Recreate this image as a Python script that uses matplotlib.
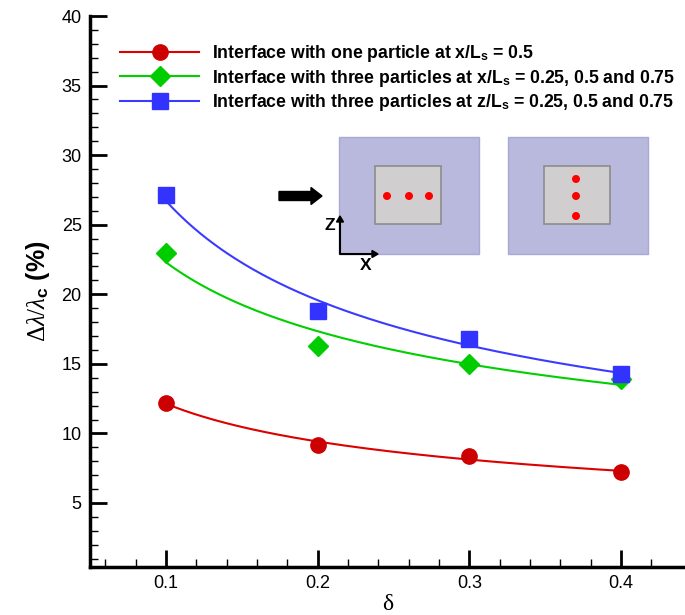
import matplotlib
matplotlib.use("Agg")
import matplotlib.pyplot as plt
import numpy as np
from matplotlib.lines import Line2D
from matplotlib.patches import Rectangle, Circle, FancyArrow

plt.rcParams["font.family"] = ["Liberation Sans", "DejaVu Sans"]
plt.rcParams["mathtext.fontset"] = "custom"
plt.rcParams["mathtext.rm"] = "Liberation Serif"
plt.rcParams["mathtext.it"] = "Liberation Serif:italic"
plt.rcParams["mathtext.bf"] = "Liberation Sans:bold"
plt.rcParams["mathtext.sf"] = "Liberation Sans"

# data
delta = [0.1, 0.2, 0.3, 0.4]
one_x = [12.2, 9.2, 8.4, 7.2]
three_x = [23.0, 16.3, 15.0, 13.9]
three_z = [27.1, 18.8, 16.8, 14.3]

labels = [
    r"Interface with one particle at x/L$_{\mathbf{s}}$ = 0.5",
    r"Interface with three particles at x/L$_{\mathbf{s}}$ = 0.25, 0.5 and 0.75",
    r"Interface with three particles at z/L$_{\mathbf{s}}$ = 0.25, 0.5 and 0.75",
]
series = [one_x, three_x, three_z]
line_cols = ["#dd0000", "#00d000", "#3b3bff"]
mark_cols = ["#cc0000", "#00cc00", "#3333ff"]
markers = ["o", "D", "s"]
msizes = [11, 10, 11]

fig = plt.figure(figsize=(6.85, 6.15), dpi=100)
ax = fig.add_axes([90 / 685, 48 / 615, 595 / 685, 551 / 615])

xs = np.linspace(min(delta), max(delta), 200)
handles = []
for y, lc, mc, m, ms, lab in zip(series, line_cols, mark_cols, markers, msizes, labels):
    # power-law trend line fitted to the points
    b, a = np.polyfit(np.log(delta), np.log(y), 1)
    ax.plot(xs, np.exp(a) * xs ** b, color=lc, lw=1.5, zorder=2)
    ax.plot(delta, y, ls="none", marker=m, ms=ms, color=mc, zorder=3)
    handles.append(Line2D([], [], color=lc, lw=1.5, marker=m, ms=ms,
                          markerfacecolor=mc, markeredgecolor=mc))

ax.set_xlim(0.05, 0.05 + 595 / 1517)
ax.set_ylim(0.4, 40)
ax.set_xticks([0.1, 0.2, 0.3, 0.4])
ax.set_xticks(np.arange(0.06, 0.44, 0.02), minor=True)
ax.set_yticks([5, 10, 15, 20, 25, 30, 35, 40])
ax.set_yticks(np.arange(1, 40, 1), minor=True)
ax.tick_params(which="major", direction="in", length=12, width=2, labelsize=13, pad=6)
ax.tick_params(which="minor", direction="in", length=6, width=1)
for s in ["top", "right"]:
    ax.spines[s].set_visible(False)
for s in ["left", "bottom"]:
    ax.spines[s].set_linewidth(2.5)

ax.set_xlabel("δ", fontsize=17, family="Liberation Serif", labelpad=1)
ax.set_ylabel(r"$\Delta\lambda/\lambda_{\mathbf{c}}$ (%)", fontsize=18,
              fontweight="bold", labelpad=7)

ax.legend(handles, labels, loc="upper left", bbox_to_anchor=(23 / 595, 1 - 20 / 551),
          frameon=False, prop={"weight": "bold", "size": 12.7}, handlelength=4.5,
          handletextpad=0.72, labelspacing=0.2, borderaxespad=0)

# inset schematic, in figure pixel coordinates
ov = fig.add_axes([0, 0, 1, 1], zorder=5)
ov.set_xlim(0, 685)
ov.set_ylim(615, 0)
ov.axis("off")
ov.patch.set_alpha(0)
for x0 in [339, 508]:
    ov.add_patch(Rectangle((x0, 137), 140, 117, fc="#b9b9de", ec="#a9a9d6", lw=1))
    ov.add_patch(Rectangle((x0 + 36, 166), 66, 58, fc="#d0cece", ec="#8c8c8c", lw=1.2))
for cx, cy in [(387, 196), (409, 196), (429, 196), (576, 179), (576, 196), (576, 216)]:
    ov.add_patch(Circle((cx, cy), 4, fc="#ff0000", ec="none"))
ov.add_patch(FancyArrow(279, 196, 43, 0, width=9, head_width=17, head_length=11,
                        length_includes_head=True, fc="black", ec="black"))
ov.plot([340, 340, 374], [219, 254, 254], color="black", lw=1.5)
ov.add_patch(FancyArrow(340, 222, 0, -6, width=0.1, head_width=7, head_length=6,
                        length_includes_head=True, fc="black", ec="black"))
ov.add_patch(FancyArrow(372, 254, 6, 0, width=0.1, head_width=7, head_length=6,
                        length_includes_head=True, fc="black", ec="black"))
ov.text(330, 226, "Z", fontsize=12.5, fontweight="bold", ha="center", va="center")
ov.text(366, 265, "X", fontsize=12.5, fontweight="bold", ha="center", va="center")

fig.savefig("out.png", dpi=100)
